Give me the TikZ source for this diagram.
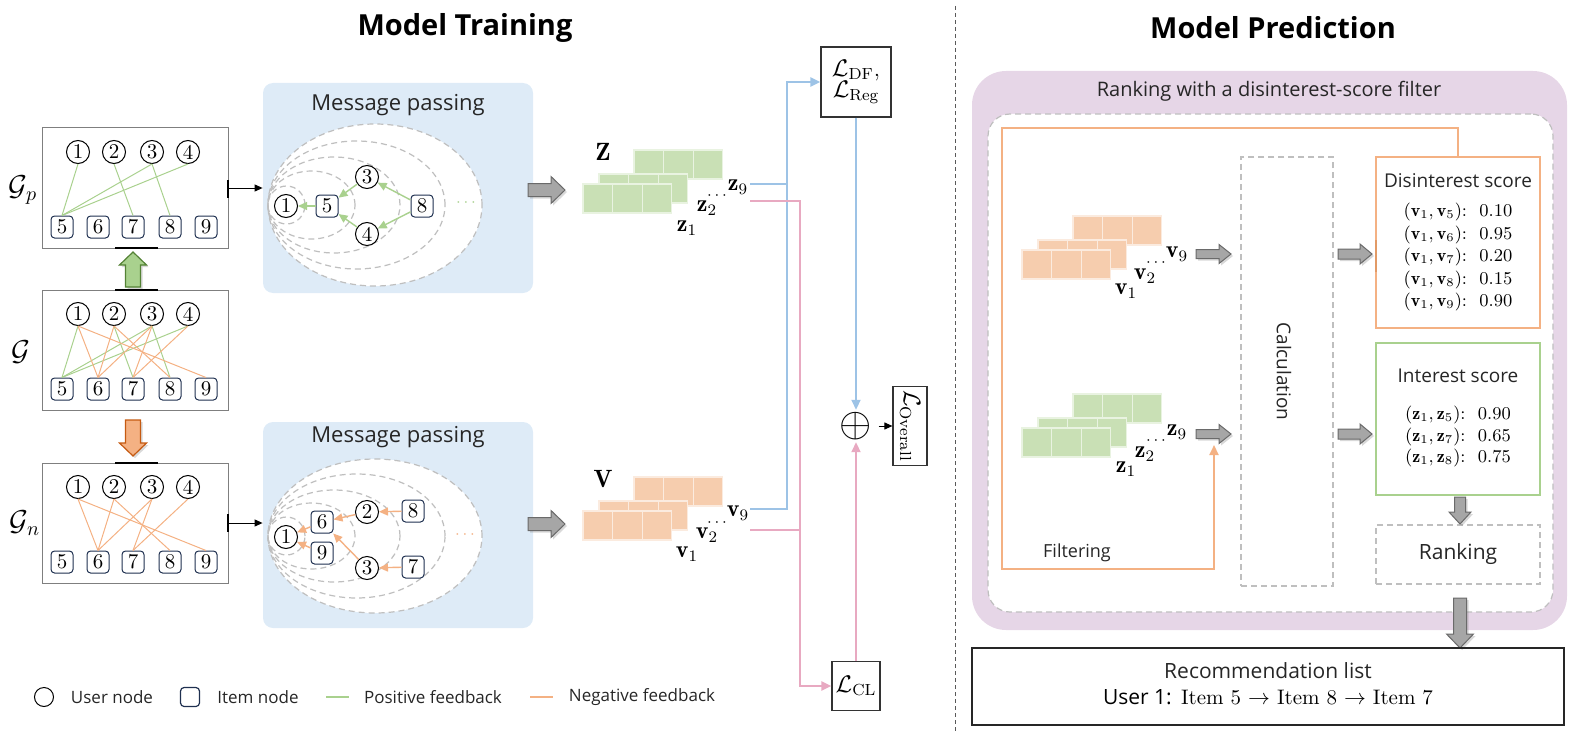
\documentclass[tikz,border=0pt]{standalone}
\usepackage{fontspec}
\setsansfont{Open Sans}
\usetikzlibrary{arrows.meta,shadows,calc}
\definecolor{pgreen}{HTML}{A9D18E}
\definecolor{porange}{HTML}{F4B183}
\definecolor{porangeD}{HTML}{E29A66}
\definecolor{panelblue}{HTML}{DEEBF7}
\definecolor{lblue}{HTML}{9DC3E6}
\definecolor{lpink}{HTML}{E8A9C1}
\definecolor{ppurple}{HTML}{E6D6E7}
\definecolor{embg}{HTML}{C9E0B5}
\definecolor{embo}{HTML}{F6CDAE}
\definecolor{navy}{HTML}{1F3050}
\definecolor{dgray}{HTML}{7F7F7F}
\definecolor{lgray}{HTML}{BFBFBF}
\definecolor{agray}{HTML}{A6A6A6}
\definecolor{agrayd}{HTML}{6A6A6A}
\definecolor{gdark}{HTML}{548235}
\definecolor{odark}{HTML}{C55A11}
\newcommand\myfs[1]{\fontsize{#1}{#1}\selectfont}
\tikzset{
  unode/.style={circle, draw=black, line width=0.5pt, minimum size=11.5pt, inner sep=0pt, fill=white, font=\rmfamily\myfs{10.5}},
  inode/.style={rectangle, rounded corners=1.8pt, draw=navy, line width=0.5pt, minimum size=11pt, inner sep=0pt, fill=white, font=\rmfamily\myfs{10.5}},
  gbox/.style={draw=dgray, line width=0.5pt, minimum width=93pt, minimum height=60pt, inner sep=0pt},
  stub/.style={black, line width=0.6pt},
  blk/.style={-{Triangle[length=4pt,width=3.5pt]}, line width=0.5pt, black},
  gedge/.style={pgreen, line width=0.5pt},
  oedge/.style={porange, line width=0.5pt},
  mparr/.style={-{Triangle[length=4.5pt,width=4pt]}, line width=0.7pt},
  mpanel/.style={fill=panelblue, rounded corners=5pt, minimum width=135pt, inner sep=0pt},
  ell/.style={lgray, line width=0.6pt, dash pattern=on 3pt off 2pt},
  garr/.style={fill=agray, draw=agrayd, line width=0.5pt, drop shadow={shadow xshift=1pt, shadow yshift=-1pt, opacity=0.3}},
  greenarr/.style={fill=pgreen, draw=gdark, line width=0.6pt, drop shadow={shadow xshift=1pt, shadow yshift=-1pt, opacity=0.3}},
  orangearr/.style={fill=porange, draw=odark, line width=0.6pt, drop shadow={shadow xshift=1pt, shadow yshift=-1pt, opacity=0.3}},
  pics/barrow/.style n args={5}{code={
    \path[#5] (0,-#2) -- ({#1-#4},-#2) -- ({#1-#4},-#3) -- (#1,0) -- ({#1-#4},#3) -- ({#1-#4},#2) -- (0,#2) -- cycle;
  }},
  emlab/.style={inner sep=0pt, font=\myfs{12}},
  dotlab/.style={inner sep=0pt, font=\myfs{8}},
  bline/.style={lblue, line width=1pt},
  pline/.style={lpink, line width=1pt},
  ctip/.style={-{Triangle[length=5pt,width=4.5pt]}},
  lbox/.style={draw=black!80, line width=0.6pt, inner sep=1pt, fill=white},
  dashbox/.style={draw=lgray, line width=0.6pt, dash pattern=on 3pt off 2pt},
  sf/.style={font=\sffamily\myfs{#1}, text=black!85},
}
\newcommand\bgraph[2]{%
  \node[gbox] (#1box) at (135,{#2+60}) {};
  \foreach \k/\x in {1/78,2/114,3/152,4/188} \node[unode] (#1u\k) at (\x,{#2+24}) {\k};
  \foreach \k/\x in {5/62,6/98,7/133,8/170,9/206} \node[inode] (#1i\k) at (\x,{#2+99}) {\k};
}
\newcommand\embstack[3]{%
  \foreach \dx/\dy in {51/-34,16/-10,0/0}{
    \foreach \i in {0,1,2}{
      \draw[fill=#3, draw=#3!40!white, line width=0.6pt] ({#1+\dx+\i*29.6},{#2+\dy}) rectangle ++(29.6,29);
    }
  }%
}
\begin{document}
\begin{tikzpicture}[x=0.5pt,y=-0.5pt]
\useasboundingbox (0,0) rectangle (1584,738);

% ---------- titles and divider
\node[font=\sffamily\bfseries\myfs{14.5}] (ttrain) at (465,28) {Model Training};
\node[font=\sffamily\bfseries\myfs{14.5}] (tpred) at (1273,28) {Model Prediction};
\coordinate (dv1) at (955,6);
\coordinate (dv2) at (955,732);
\draw[black!65, line width=0.5pt, dash pattern=on 2pt off 1.5pt] (dv1) -- (dv2);

% ---------- bipartite graphs
\bgraph{gp}{128}
\bgraph{g}{290}
\bgraph{gn}{463}
\foreach \a/\b in {1/5,2/7,3/5,3/8,4/5} \draw[gedge] (gpu\a.south) -- (gpi\b.north);
\foreach \a/\b in {1/5,2/7,3/5,3/8,4/5} \draw[gedge] (gu\a.south) -- (gi\b.north);
\foreach \a/\b in {1/6,1/9,2/6,2/8,3/6,3/7,4/7} \draw[oedge] (gu\a.south) -- (gi\b.north);
\foreach \a/\b in {1/6,1/9,2/6,2/8,3/6,3/7,4/7} \draw[oedge] (gnu\a.south) -- (gni\b.north);
\node[font=\myfs{14}] (lgp) at (23,190) {$\mathcal{G}_p$};
\node[font=\myfs{14}] (lg) at (21,352) {$\mathcal{G}$};
\node[font=\myfs{14}] (lgn) at (25,523) {$\mathcal{G}_n$};
% connector stubs on the boxes
\draw[stub] (115,248) -- (158,248);
\draw[stub] (115,290) -- (158,290);
\draw[stub] (115,463) -- (158,463);
\draw[stub] (228,180) -- (228,198);
\draw[stub] (228,514) -- (228,532);
% block arrows between graphs
\pic[rotate=90] at (133,287) {barrow={35}{7.5}{13.5}{13}{greenarr}};
\pic[rotate=-90] at (133,420) {barrow={36}{7.5}{13.5}{13}{orangearr}};

% ---------- message passing (positive)
\node[mpanel, minimum height=105pt] (mp1) at (398,188) {};
\node[sf=11] (mp1t) at (398,105) {Message passing};
\fill[white] (375,205) ellipse [x radius=53.5pt, y radius=40.5pt];
\foreach \rx/\ry in {53.5/40.5,44.25/32,33/24,21.75/17,9.25/9.5}
  \draw[ell] ({268+2*\rx},205) ellipse [x radius=\rx pt, y radius=\ry pt];
\node[unode] (t1) at (286,206) {1};
\node[inode] (t5) at (327,206) {5};
\node[unode] (t3) at (367,177) {3};
\node[unode] (t4) at (367,234) {4};
\node[inode] (t8) at (422,206) {8};
\node[text=pgreen, font=\myfs{8}] (tdots) at (466,203) {$\cdots$};
\foreach \a/\b in {t5/t1,t3/t5,t4/t5,t8/t3,t8/t4} \draw[mparr, pgreen] (\a) -- (\b);
\draw[blk] (gpbox.east) -- (gpbox.east -| mp1.west);

% ---------- message passing (negative)
\node[mpanel, minimum height=103pt] (mp2) at (398,525) {};
\node[sf=11] (mp2t) at (398,437) {Message passing};
\fill[white] (375,536) ellipse [x radius=53.5pt, y radius=38.5pt];
\foreach \rx/\ry in {53.5/38.5,44.25/31,33/23,21.75/16.5,9.25/9.5}
  \draw[ell] ({268+2*\rx},536) ellipse [x radius=\rx pt, y radius=\ry pt];
\node[unode] (b1) at (286,537) {1};
\node[inode] (b6) at (322,522) {6};
\node[inode] (b9) at (322,553) {9};
\node[unode] (b2) at (367,512) {2};
\node[unode] (b3) at (367,568) {3};
\node[inode] (b8) at (413,511) {8};
\node[inode] (b7) at (413,567) {7};
\node[text=porange, font=\myfs{8}] (bdots) at (465,535) {$\cdots$};
\foreach \a/\b in {b6/b1,b9/b1,b2/b6,b3/b6,b8/b2,b7/b3} \draw[mparr, porange] (\a) -- (\b);
\draw[blk] (gnbox.east) -- (gnbox.east -| mp2.west);

% ---------- embeddings (training)
\pic at (528,190) {barrow={37}{6.5}{13.5}{14}{garr}};
\pic at (528,524) {barrow={37}{6.5}{13.5}{14}{garr}};
\embstack{583}{184}{embg}
\embstack{583}{511}{embo}
\node[font=\bfseries\myfs{12.5}] (tZ) at (603,152) {$\mathbf{Z}$};
\node[emlab] (tz9) at (738,187) {$\mathbf{z}_9$};
\node[emlab] (tz2) at (707,208) {$\mathbf{z}_2$};
\node[dotlab] (tzd) at (717,196) {$\cdots$};
\node[emlab] (tz1) at (687,228) {$\mathbf{z}_1$};
\node[font=\bfseries\myfs{12.5}] (tV) at (603,479) {$\mathbf{V}$};
\node[emlab] (tv9) at (738,513) {$\mathbf{v}_9$};
\node[emlab] (tv2) at (707,535) {$\mathbf{v}_2$};
\node[dotlab] (tvd) at (717,523) {$\cdots$};
\node[emlab] (tv1) at (687,554) {$\mathbf{v}_1$};

% ---------- losses
\node[lbox, minimum width=35pt, minimum height=35pt, align=center, font=\myfs{11.5}] (ldf) at (856,82) {$\mathcal{L}_{\mathrm{DF}}$,\\[-1pt]$\mathcal{L}_{\mathrm{Reg}}$};
\node[lbox, minimum width=24pt, minimum height=24.5pt, font=\myfs{11.5}] (lcl) at (856,686) {$\mathcal{L}_{\mathrm{CL}}$};
\node[lbox, rotate=-90, minimum width=39.5pt, minimum height=17pt, font=\myfs{12}] (lov) at (910,426) {$\mathcal{L}_{\mathrm{Overall}}$};
\node[inner sep=0pt, font=\myfs{20}] (plus) at (856,426) {$\oplus$};
\coordinate (zb) at (750,184);
\coordinate (vb) at (750,509);
\coordinate (bbus) at (787,82);
\coordinate (zp) at (750,201);
\coordinate (vp) at (750,530);
\coordinate (pbus) at (800,686);
\draw[bline, ctip] (zb) -| (bbus) -- (ldf.west);
\draw[bline] (vb) -| (bbus |- zb);
\draw[pline, ctip] (zp) -| (pbus) -- (lcl.west);
\draw[pline] (vp) -- (vp -| pbus);
\draw[bline, ctip] (ldf.south) -- ([yshift=1pt]plus.north);
\draw[pline, ctip] (lcl.north) -- ([yshift=-1pt]plus.south);
\draw[blk] ([xshift=3pt]plus.east) -- (lov);

% ---------- legend
\node[circle, draw=black, line width=0.5pt, minimum size=9.5pt, inner sep=0pt] (lgu) at (44,697) {};
\node[sf=8.5] (lgut) at (112,697) {User node};
\node[rectangle, rounded corners=1.8pt, draw=navy, line width=0.6pt, minimum size=9.5pt, inner sep=0pt] (lgi) at (190,697) {};
\node[sf=8.5] (lgit) at (258,697) {Item node};
\coordinate (lgg1) at (326,697);
\coordinate (lgg2) at (349,697);
\draw[pgreen, line width=1pt] (lgg1) -- (lgg2);
\node[sf=8.5] (lgpt) at (433,697) {Positive feedback};
\coordinate (lgo1) at (530,697);
\coordinate (lgo2) at (553,697);
\draw[porange, line width=1pt] (lgo1) -- (lgo2);
\node[sf=8.5] (lgnt) at (642,697) {Negative feedback};

% ---------- prediction panel
\node[fill=ppurple, rounded corners=17pt, minimum width=297.5pt, minimum height=279.5pt, inner sep=0pt] (pp) at (1269.5,350.5) {};
\node[sf=10] (ppt) at (1269,91) {Ranking with a disinterest-score filter};
\node[fill=white, dashbox, rounded corners=11pt, minimum width=282.5pt, minimum height=249pt, inner sep=0pt] (inner) at (1270.5,363) {};
\node[dashbox, minimum width=46pt, minimum height=214.5pt, inner sep=0pt] (calc) at (1287,371.5) {};
\node[sf=9.5, rotate=-90] (calct) at (1284,371.5) {Calculation};
\node[draw=porange, line width=0.8pt, minimum width=82pt, minimum height=85.5pt, inner sep=0pt] (dis) at (1458,242.5) {};
\node[sf=9.5] (dist) at (1458,181) {Disinterest score};
\node[font=\fontsize{9}{11.25}\selectfont, align=left] (disv) at (1458,257) {%
$(\mathbf{v}_1,\mathbf{v}_5)$:~~{\addfontfeatures{LetterSpace=12}0.10}\\
$(\mathbf{v}_1,\mathbf{v}_6)$:~~{\addfontfeatures{LetterSpace=12}0.95}\\
$(\mathbf{v}_1,\mathbf{v}_7)$:~~{\addfontfeatures{LetterSpace=12}0.20}\\
$(\mathbf{v}_1,\mathbf{v}_8)$:~~{\addfontfeatures{LetterSpace=12}0.15}\\
$(\mathbf{v}_1,\mathbf{v}_9)$:~~{\addfontfeatures{LetterSpace=12}0.90}};
\coordinate (dstub1) at (1376,240);
\coordinate (dstub2) at (1376,272);
\draw[porangeD, line width=1pt] (dstub1) -- (dstub2);
\node[draw=pgreen, line width=0.8pt, minimum width=82pt, minimum height=76pt, inner sep=0pt] (int) at (1458,419) {};
\node[sf=9.5] (intt) at (1458,376) {Interest score};
\node[font=\fontsize{9}{10.75}\selectfont, align=left] (intv) at (1458,436.5) {%
$(\mathbf{z}_1,\mathbf{z}_5)$:~~{\addfontfeatures{LetterSpace=12}0.90}\\
$(\mathbf{z}_1,\mathbf{z}_7)$:~~{\addfontfeatures{LetterSpace=12}0.65}\\
$(\mathbf{z}_1,\mathbf{z}_8)$:~~{\addfontfeatures{LetterSpace=12}0.75}};
\node[dashbox, minimum width=82pt, minimum height=29.5pt, inner sep=0pt, sf=10.5] (rank) at (1458,554.5) {Ranking};

% embeddings (prediction)
\embstack{1022}{250}{embo}
\embstack{1022}{428}{embg}
\node[emlab] (rv9) at (1177,254) {$\mathbf{v}_9$};
\node[emlab] (rv2) at (1145,276) {$\mathbf{v}_2$};
\node[dotlab] (rvd) at (1156,263) {$\cdots$};
\node[emlab] (rv1) at (1126,291) {$\mathbf{v}_1$};
\node[emlab] (rz9) at (1177,432) {$\mathbf{z}_9$};
\node[emlab] (rz2) at (1145,454) {$\mathbf{z}_2$};
\node[dotlab] (rzd) at (1156,441) {$\cdots$};
\node[emlab] (rz1) at (1126,469) {$\mathbf{z}_1$};
\pic at (1196,254) {barrow={35}{4.5}{9.5}{12}{garr}};
\pic at (1196,434) {barrow={35}{4.5}{9.5}{12}{garr}};
\pic at (1338,254) {barrow={34}{5}{10}{12}{garr}};
\pic at (1338,434) {barrow={34}{5}{10}{12}{garr}};
\pic[rotate=-90] at (1460,497) {barrow={27}{5.5}{11}{12}{garr}};
\pic[rotate=-90] at (1460,598) {barrow={50}{6.5}{13.5}{14}{garr}};

% filtering path
\coordinate (ftl) at (1002,128);
\coordinate (fbr) at (1214,569);
\coordinate (fend) at (1214,445);
\draw[porange, line width=1pt, ctip] (dis.north) |- (ftl) |- (fbr) -- (fend);
\node[sf=9] (filt) at (1077,553) {Filtering};

% recommendation list
\node[draw=black!85, line width=0.7pt, minimum width=296pt, minimum height=38.5pt, inner sep=0pt] (rec) at (1268,686.5) {};
\node[sf=10.5] (rect) at (1268,671) {Recommendation list};
\node[font=\rmfamily\myfs{10.5}] (recu) at (1268,697) {{\sffamily User 1:} Item 5 $\rightarrow$ Item 8 $\rightarrow$ Item 7};
\end{tikzpicture}
\end{document}
